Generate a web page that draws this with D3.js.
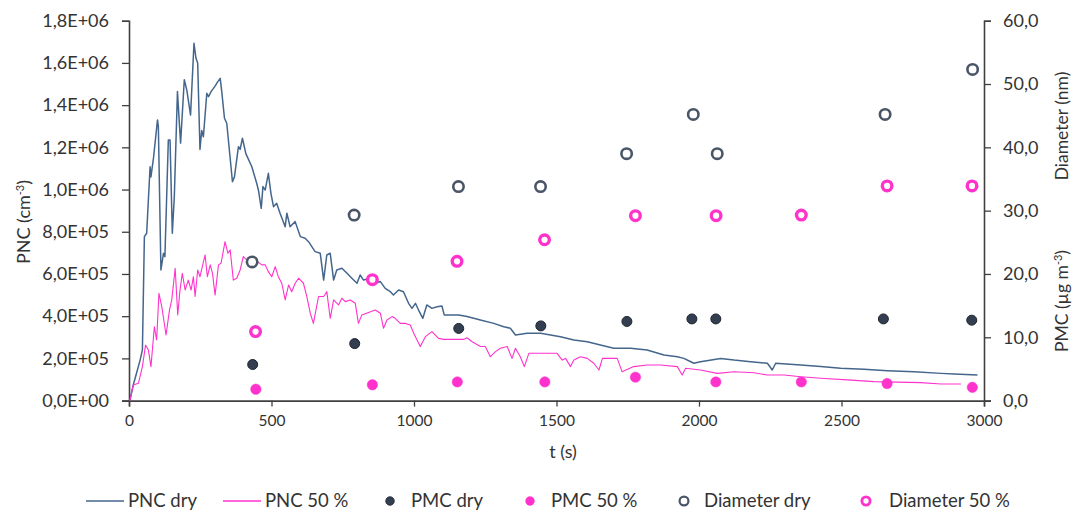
<!DOCTYPE html>
<html>
<head>
<meta charset="utf-8">
<script src="https://cdn.jsdelivr.net/npm/d3@7"></script>
<style>
  html, body { margin: 0; padding: 0; background: #fff; }
  svg { display: block; }
  text { font-family: Lato, "Open Sans", sans-serif; fill: #333; }
</style>
</head>
<body>
<svg id="chart" width="1073" height="511"></svg>
<script>
// ---- data ----
const xTicks = [0, 500, 1000, 1500, 2000, 2500, 3000];
const leftTicks = [0, 2e5, 4e5, 6e5, 8e5, 1e6, 1.2e6, 1.4e6, 1.6e6, 1.8e6];
const rightTicks = [0, 10, 20, 30, 40, 50, 60];

const pncDryT = [3,15,39,47,54,62,74,77,86,100,103,112,121,126,138,144,152,159,170,181,194,203,216,228,235,241,249,255,261,273,279,288,302,311,320,325,335,343,363,370,384,390,398,410,431,448,454,464,470,478,489,498,507,518,530,548,554,565,583,601,618,630,653,671,683,694,706,718,729,747,765,782,800,811,823,846,864,882,899,917,928,946,963,981,993,1005,1016,1031,1045,1063,1081,1098,1106,1157,1186,1233,1280,1315,1338,1356,1397,1444,1479,1514,1561,1608,1654,1701,1760,1818,1877,1924,1947,1971,1982,2005,2076,2123,2181,2240,2257,2269,2357,2427,2497,2579,2661,2755,2849,2895,2977];
const pncDry = [0,74000,192000,240000,777000,793000,1108000,1060000,1150000,1330000,1300000,619000,698000,682000,1235000,1235000,793000,966000,1464000,1220000,1520000,1470000,1353000,1693000,1622000,1600000,1190000,1280000,1250000,1456000,1440000,1464000,1490000,1510000,1527000,1470000,1338000,1314000,1037000,1060000,1203000,1190000,1243000,1170000,1108000,1030000,998000,911000,1014000,998000,1077000,982000,919000,935000,888000,824000,888000,824000,848000,777000,769000,753000,706000,698000,571000,690000,698000,571000,619000,627000,603000,580000,556000,595000,571000,580000,556000,564000,532000,516000,500000,524000,516000,461000,437000,461000,429000,390000,453000,437000,445000,448000,406000,406000,398000,382000,366000,350000,343000,311000,319000,319000,311000,303000,287000,279000,263000,248000,248000,240000,216000,208000,200000,184000,177000,184000,200000,192000,184000,177000,145000,177000,169000,161000,153000,148000,142000,137000,129000,126000,121000];

const pnc50T = [3,15,33,47,58,68,77,89,97,105,115,130,142,150,162,171,179,187,197,208,218,226,232,241,249,267,275,285,293,302,314,323,337,347,355,366,378,390,401,413,443,466,478,489,501,513,524,536,548,560,571,583,595,612,624,636,647,665,683,694,706,718,735,747,759,776,794,805,817,864,882,893,905,923,934,952,969,987,999,1022,1040,1063,1086,1104,1174,1186,1204,1233,1250,1268,1286,1303,1327,1344,1356,1373,1387,1403,1502,1520,1532,1549,1561,1584,1608,1631,1649,1661,1713,1730,1771,1818,1865,1924,1941,1953,2005,2064,2123,2193,2240,2298,2357,2427,2521,2614,2778,2849,2919];
const pnc50 = [0,74000,82000,161000,263000,240000,161000,350000,287000,508000,445000,311000,429000,477000,627000,406000,524000,603000,524000,571000,524000,587000,493000,619000,587000,690000,587000,643000,603000,500000,643000,651000,753000,698000,714000,571000,580000,619000,682000,667000,667000,643000,643000,611000,587000,635000,587000,556000,477000,548000,516000,556000,580000,556000,493000,414000,366000,493000,493000,516000,390000,477000,453000,485000,469000,477000,461000,366000,406000,429000,414000,343000,382000,398000,390000,366000,366000,358000,319000,256000,303000,327000,295000,290000,290000,298000,279000,256000,256000,208000,232000,248000,256000,200000,248000,208000,161000,224000,224000,192000,200000,161000,192000,208000,200000,177000,145000,200000,200000,137000,161000,169000,169000,161000,121000,153000,145000,129000,137000,132000,121000,121000,113000,106000,98000,90000,85000,79000,79000];

const pmcDryT = [434,792,1157,1445,1747,1975,2059,2647,2957];
const pmcDry  = [5.7,9.0,11.4,11.8,12.5,12.9,12.9,12.9,12.7];
const pmc50T  = [445,854,1152,1459,1777,2059,2359,2660,2959];
const pmc50   = [1.8,2.5,2.95,2.95,3.7,2.95,2.95,2.7,2.1];
const diamDryT = [432,790,1156,1444,1746,1980,2064,2653,2960];
const diamDry  = [21.9,29.3,33.8,33.8,39.0,45.2,39.0,45.2,52.3];
const diam50T  = [444,854,1151,1458,1777,2060,2359,2660,2958];
const diam50   = [10.9,19.1,22.0,25.4,29.2,29.2,29.3,33.9,33.9];

const legendLabels = ["PNC dry", "PNC 50 %", "PMC dry", "PMC 50 %", "Diameter dry", "Diameter 50 %"];

// ---- styles ----
const C_DRY_LINE = "#44668c";
const C_DRY_DOT = "#333f50";
const C_DRY_RING = "#4a5668";
const C_PINK = "#ff33cc";
const C_AXIS = "#404040";

const svg = d3.select("#chart");
const m = { left: 129, right: 984, top: 20.7, bottom: 400.6 };

const x = d3.scaleLinear().domain([0, 3000]).range([m.left, m.right]);
const yL = d3.scaleLinear().domain([0, 1.8e6]).range([m.bottom, m.top]);
const yR = d3.scaleLinear().domain([0, 60]).range([m.bottom, m.top]);

const fmtLeft = v => {
  const s = v.toExponential(1);
  const [mant, ex] = s.split("e");
  const sign = ex[0] === "-" ? "-" : "+";
  const e = Math.abs(+ex).toString().padStart(2, "0");
  return mant.replace(".", ",") + "E" + sign + e;
};
const fmtRight = v => v.toFixed(1).replace(".", ",");

// axes
const gx = svg.append("g").attr("transform", `translate(0,${m.bottom})`)
  .call(d3.axisBottom(x).tickValues(xTicks).tickFormat(d => d).tickSizeOuter(0).tickSize(6).tickPadding(8));
const gl = svg.append("g").attr("transform", `translate(${m.left},0)`)
  .call(d3.axisLeft(yL).tickValues(leftTicks).tickFormat(fmtLeft).tickSizeOuter(0).tickSize(7).tickPadding(13));
const gr = svg.append("g").attr("transform", `translate(${m.right},0)`)
  .call(d3.axisRight(yR).tickValues(rightTicks).tickFormat(fmtRight).tickSizeOuter(0).tickSize(7).tickPadding(12));

[gx, gl, gr].forEach(g => {
  g.selectAll("path.domain").attr("stroke", C_AXIS).attr("stroke-width", 1.6);
  g.selectAll(".tick line").attr("stroke", C_AXIS).attr("stroke-width", 1.3);
  g.selectAll(".tick text").style("font-size", "18px").attr("fill", "#333").style("font-family", "Lato, sans-serif");
});
gx.selectAll(".tick text").style("font-size", "15.5px");

// axis titles
svg.append("text").attr("x", 563).attr("y", 458).attr("text-anchor", "middle")
  .style("font-size", "18px").text("t (s)");

const lt = svg.append("text").attr("transform", "translate(30,222) rotate(-90)")
  .attr("text-anchor", "middle").style("font-size", "18px");
lt.append("tspan").text("PNC (cm");
lt.append("tspan").attr("dy", -6).style("font-size", "11px").text("-3");
lt.append("tspan").attr("dy", 6).text(")");

svg.append("text").attr("transform", "translate(1068,126) rotate(-90)")
  .attr("text-anchor", "middle").style("font-size", "17.5px").text("Diameter (nm)");
const rt = svg.append("text").attr("transform", "translate(1068,301) rotate(-90)")
  .attr("text-anchor", "middle").style("font-size", "17.5px");
rt.append("tspan").text("PMC (µg m");
rt.append("tspan").attr("dy", -6).style("font-size", "11px").text("-3");
rt.append("tspan").attr("dy", 6).text(")");

// lines
const lineL = d3.line().x(d => x(d[0])).y(d => yL(d[1]));
svg.append("path").datum(pncDryT.map((t, i) => [t, pncDry[i]]))
  .attr("d", lineL).attr("fill", "none").attr("stroke", C_DRY_LINE).attr("stroke-width", 1.5)
  .attr("stroke-linejoin", "round");
svg.append("path").datum(pnc50T.map((t, i) => [t, pnc50[i]]))
  .attr("d", lineL).attr("fill", "none").attr("stroke", C_PINK).attr("stroke-width", 1.1)
  .attr("stroke-linejoin", "round");

// markers
function dots(ts, vs, style) {
  svg.append("g").selectAll("circle").data(ts.map((t, i) => [t, vs[i]])).join("circle")
    .attr("cx", d => x(d[0])).attr("cy", d => yR(d[1]))
    .attr("r", style.r).attr("fill", style.fill).attr("stroke", style.stroke).attr("stroke-width", style.sw);
}
const S_PMC_DRY = { r: 5, fill: C_DRY_DOT, stroke: "#1e2530", sw: 1 };
const S_PMC_50 = { r: 5.2, fill: C_PINK, stroke: C_PINK, sw: 0.5 };
const S_DIA_DRY = { r: 5.2, fill: "#fff", stroke: C_DRY_RING, sw: 2.6 };
const S_DIA_50 = { r: 4.8, fill: "#fff", stroke: C_PINK, sw: 3.4 };

dots(pmcDryT, pmcDry, S_PMC_DRY);
dots(pmc50T, pmc50, S_PMC_50);
dots(diamDryT, diamDry, S_DIA_DRY);
dots(diam50T, diam50, S_DIA_50);

// legend
const ly = 501;
const leg = svg.append("g");
const lfs = "18.5px";
leg.append("line").attr("x1", 86).attr("x2", 124).attr("y1", ly).attr("y2", ly).attr("stroke", C_DRY_LINE).attr("stroke-width", 1.6);
leg.append("line").attr("x1", 223).attr("x2", 261).attr("y1", ly).attr("y2", ly).attr("stroke", C_PINK).attr("stroke-width", 1.3);
const legDots = [[390, S_PMC_DRY], [530, S_PMC_50], [684, S_DIA_DRY], [866, S_DIA_50]];
legDots.forEach(([cx, s]) => {
  leg.append("circle").attr("cx", cx).attr("cy", ly).attr("r", s.r * 0.85)
    .attr("fill", s.fill).attr("stroke", s.stroke).attr("stroke-width", s.sw * 0.85);
});
const textX = [128, 265, 411, 551, 704, 889];
legendLabels.forEach((lab, i) => {
  leg.append("text").attr("x", textX[i]).attr("y", ly + 6).style("font-size", lfs).text(lab);
});
</script>
</body>
</html>
